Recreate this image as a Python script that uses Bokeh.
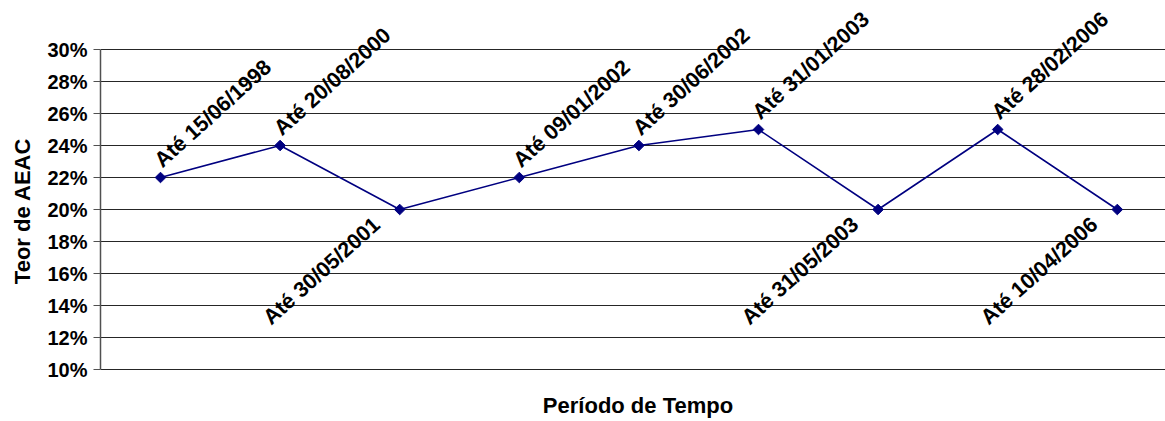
from bokeh.plotting import figure
from bokeh.models import (ColumnDataSource, Range1d, FixedTicker, PrintfTickFormatter,
                          LabelSet, Label)
from bokeh.core.properties import value
from bokeh.embed import file_html
from bokeh.resources import INLINE

# AEAC content limits by period
periods = ["Até 15/06/1998", "Até 20/08/2000", "Até 30/05/2001", "Até 09/01/2002",
           "Até 30/06/2002", "Até 31/01/2003", "Até 31/05/2003", "Até 28/02/2006",
           "Até 10/04/2006"]
teor = [22, 24, 20, 22, 24, 25, 20, 25, 20]
label_side = ["above", "above", "below", "above", "above", "above", "below", "above", "below"]
y_ticks = [10, 12, 14, 16, 18, 20, 22, 24, 26, 28, 30]
y_title = "Teor de AEAC"
x_title = "Período de Tempo"

FONT = "Liberation Sans"
NAVY = "#000080"

idx = list(range(len(periods)))
src = ColumnDataSource(data=dict(x=idx, y=teor, label=periods))

# the frame fills the full height so rotated labels and the x title have room;
# the y axis itself is bounded to 10-30
p = figure(width=1165, height=421, output_backend="svg", toolbar_location=None,
           x_axis_location=None,
           x_range=Range1d(-0.5017, 8.403), y_range=Range1d(6.75, 33.0625),
           min_border_left=100, min_border_top=0, min_border_bottom=0,
           min_border_right=0)
p.outline_line_color = None
p.background_fill_color = "white"
p.border_fill_color = "white"

# y axis
yax = p.yaxis[0]
yax.bounds = (10, 30)
yax.ticker = FixedTicker(ticks=y_ticks)
yax.formatter = PrintfTickFormatter(format="%d%%")
yax.axis_label = y_title
yax.axis_label_text_font = FONT
yax.axis_label_text_font_style = "bold"
yax.axis_label_text_font_size = "22px"
yax.axis_label_text_color = "black"
yax.axis_label_standoff = 9
yax.major_label_text_font = FONT
yax.major_label_text_font_style = "bold"
yax.major_label_text_font_size = "20px"
yax.major_label_text_color = "black"
yax.major_label_standoff = 6
yax.major_tick_out = 7
yax.major_tick_in = 0
yax.minor_tick_out = 0
yax.minor_tick_in = 0
yax.axis_line_color = "#505050"
yax.axis_line_width = 1.5
yax.major_tick_line_color = "#505050"

p.xgrid.grid_line_color = None
p.ygrid.ticker = FixedTicker(ticks=y_ticks)
p.ygrid.grid_line_color = "#262626"
p.ygrid.grid_line_width = 1

# x title, centred under the category band, below the 10% line
p.add_layout(Label(x=537.5, y=7.75, x_units="screen", y_units="data", text=x_title,
                   text_align="center", text_baseline="alphabetic",
                   text_font=FONT, text_font_style="bold", text_font_size="22px",
                   text_color="black"))

# series
p.line("x", "y", source=src, line_color=NAVY, line_width=1.6)
p.scatter("x", "y", source=src, marker="square", size=7.5, angle=0.785398,
          fill_color=NAVY, line_color=NAVY)

# point labels
up = [i for i in idx if label_side[i] == "above"]
dn = [i for i in idx if label_side[i] == "below"]
src_up = ColumnDataSource(data=dict(x=up, y=[teor[i] for i in up], label=[periods[i] for i in up]))
src_dn = ColumnDataSource(data=dict(x=dn, y=[teor[i] for i in dn], label=[periods[i] for i in dn]))

common = dict(x="x", y="y", text="label", angle=42, angle_units="deg",
              text_font=value(FONT), text_font_style="bold", text_font_size="21.5px",
              text_color="black", level="overlay")
p.add_layout(LabelSet(source=src_up, text_align="left", text_baseline="alphabetic",
                      x_offset=2, y_offset=9, **common))
p.add_layout(LabelSet(source=src_dn, text_align="right", text_baseline="top",
                      x_offset=-31, y_offset=-3, **common))

open("out.html", "w").write(file_html(p, INLINE))
